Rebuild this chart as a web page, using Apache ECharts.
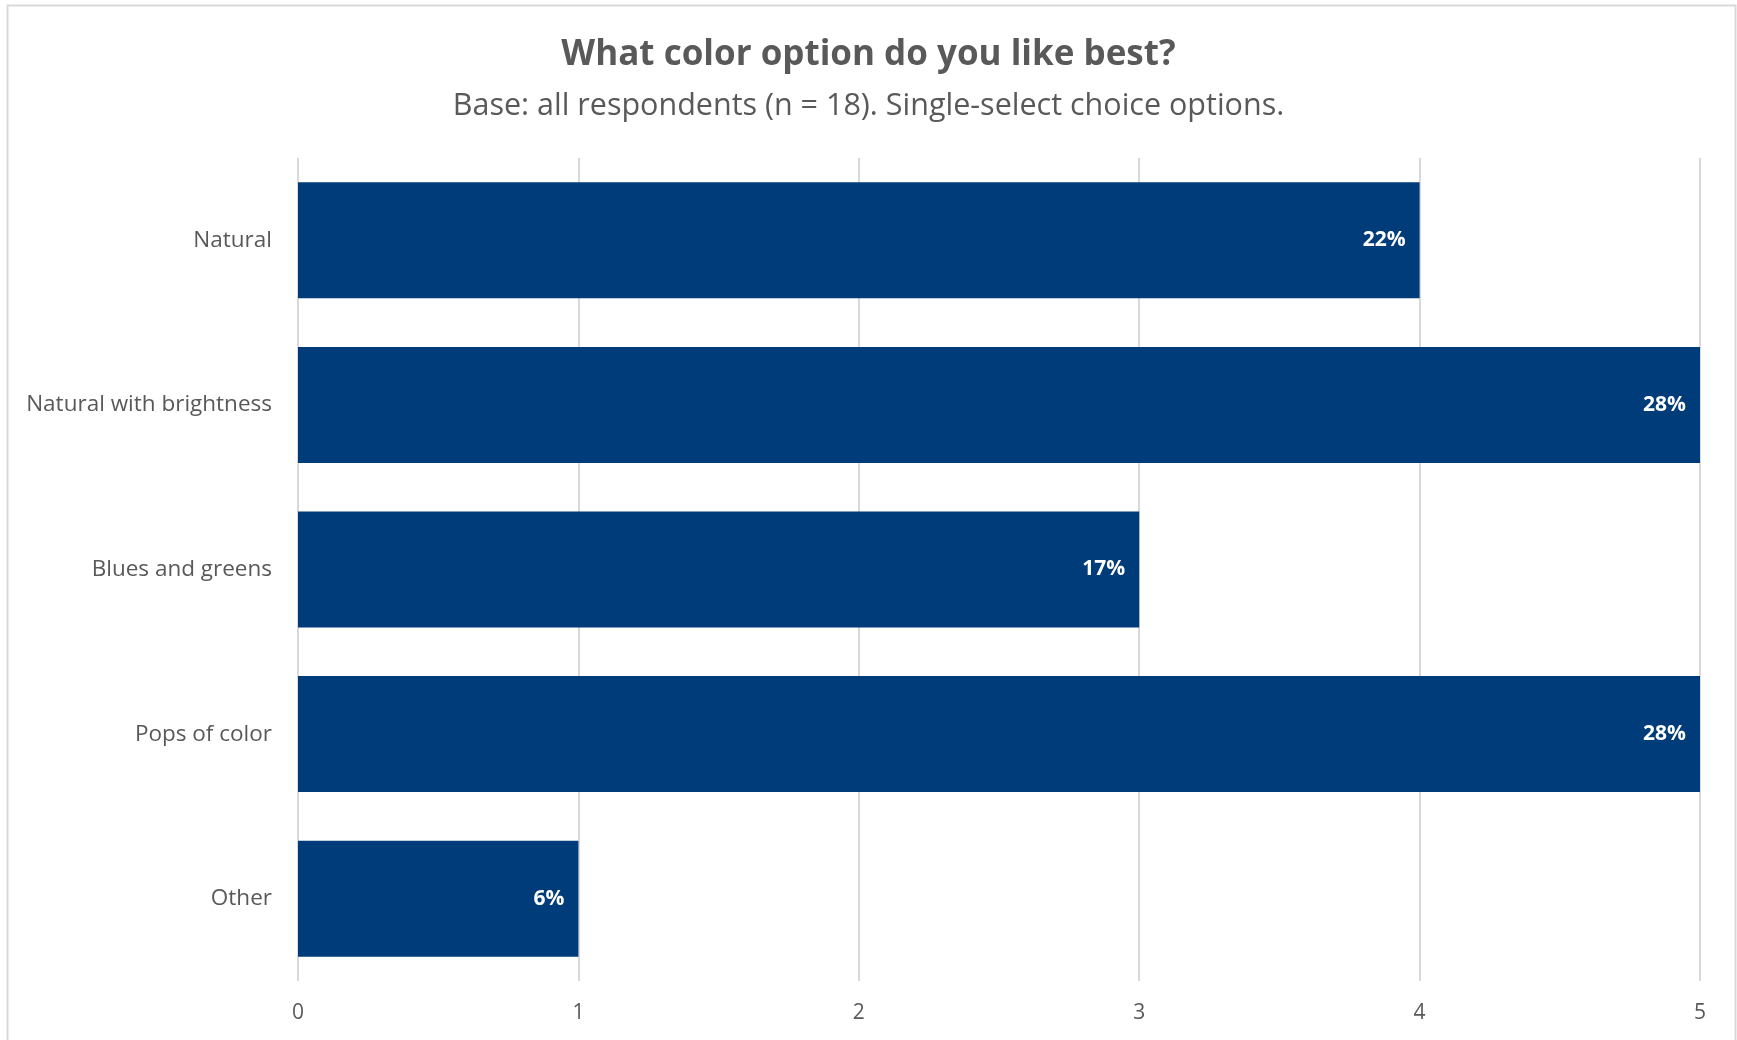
<!DOCTYPE html>
<html>
<head>
<meta charset="utf-8">
<script src="https://cdn.jsdelivr.net/npm/echarts@6/dist/echarts.min.js"></script>
<style>
  html, body { margin: 0; padding: 0; background: #fff; }
  #chart { width: 1737px; height: 1040px; }
</style>
</head>
<body>
<div id="chart"></div>
<script>
// Survey answers: number of respondents choosing each colour option
const categories = ['Natural', 'Natural with brightness', 'Blues and greens', 'Pops of color', 'Other'];
const counts = [4, 5, 3, 5, 1];
const respondents = 18;
const xTicks = [0, 1, 2, 3, 4, 5];

const FONT = '"Open Sans", "Noto Sans", sans-serif';
const chart = echarts.init(document.getElementById('chart'));

chart.setOption({
  backgroundColor: '#ffffff',
  animation: false,
  title: {
    text: 'What color option do you like best?',
    subtext: 'Base: all respondents (n = ' + respondents + '). Single-select choice options.',
    left: 'center',
    top: 33,
    itemGap: 18,
    textStyle: { fontFamily: FONT, fontSize: 35, fontWeight: 'bold', color: '#595959' },
    subtextStyle: { fontFamily: FONT, fontSize: 30.5, color: '#595959' }
  },
  graphic: [{
    type: 'rect',
    shape: { x: 7.5, y: 5.5, width: 1728, height: 1060 },
    style: { fill: 'none', stroke: '#d9d9d9', lineWidth: 2 },
    silent: true
  }],
  grid: { left: 298, right: 37, top: 158, bottom: 59, containLabel: false },
  xAxis: {
    type: 'value',
    min: xTicks[0],
    max: xTicks[xTicks.length - 1],
    interval: 1,
    axisLine: { show: false },
    axisTick: { show: false },
    axisLabel: { fontFamily: FONT, fontSize: 21, color: '#595959', margin: 22 },
    splitLine: { show: true, lineStyle: { color: '#d9d9d9', width: 2 } }
  },
  yAxis: {
    type: 'category',
    data: categories,
    inverse: true,
    axisLine: { show: false },
    axisTick: { show: false },
    axisLabel: { fontFamily: FONT, fontSize: 22.5, color: '#595959', margin: 26 }
  },
  series: [{
    type: 'bar',
    data: counts,
    barCategoryGap: '29.5%',
    itemStyle: { color: '#003b7a' },
    label: {
      show: true,
      position: 'insideRight',
      distance: 14,
      fontFamily: FONT,
      fontSize: 21,
      fontWeight: 'bold',
      color: '#ffffff',
      formatter: p => Math.round(p.value / respondents * 100) + '%'
    }
  }]
});
</script>
</body>
</html>
